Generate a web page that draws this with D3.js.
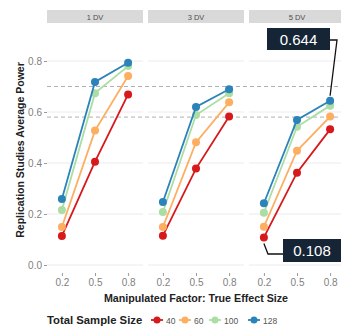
<!DOCTYPE html>
<html><head><meta charset="utf-8">
<script src="https://cdn.jsdelivr.net/npm/d3@7"></script>
<style>body{margin:0;background:#fff}svg{display:block;font-family:"Liberation Sans",Arial,sans-serif}</style>
</head><body><svg id="c" width="341" height="328"></svg>
<script>
const panels = ["1 DV", "3 DV", "5 DV"];
const effectSizes = ["0.2", "0.5", "0.8"];
const sampleSizes = ["40", "60", "100", "128"];
const colors = ["#d7191c", "#fdae61", "#abdda4", "#2b83ba"];
const yTicks = [0.0, 0.2, 0.4, 0.6, 0.8];
const refLines = [0.7, 0.58];
// values[panel][sampleSize] = power at 0.2, 0.5, 0.8
const dv1 = [[0.114, 0.405, 0.669], [0.149, 0.527, 0.741], [0.216, 0.674, 0.780], [0.259, 0.718, 0.793]];
const dv3 = [[0.115, 0.378, 0.582], [0.149, 0.481, 0.638], [0.208, 0.588, 0.674], [0.247, 0.620, 0.689]];
const dv5 = [[0.108, 0.362, 0.532], [0.150, 0.448, 0.582], [0.205, 0.542, 0.625], [0.242, 0.569, 0.644]];
const values = [dv1, dv3, dv5];
const labels = [{panel: 2, series: 3, x: "0.8", text: "0.644"}, {panel: 2, series: 0, x: "0.2", text: "0.108"}];

const svg = d3.select("#c");
const y = d3.scaleLinear().domain([0, 0.8]).range([265, 61]);
const panelLeft = [47, 148, 249], panelW = 96, stripTop = 10, stripH = 13, panelBottom = 273;
const xs = [];

panels.forEach((p, i) => {
  const x = d3.scalePoint().domain(effectSizes).range([panelLeft[i], panelLeft[i] + panelW]).padding(0.45);
  xs[i] = x;
  const g = svg.append("g");
  g.append("rect").attr("x", panelLeft[i]).attr("y", stripTop).attr("width", panelW).attr("height", stripH).attr("fill", "#d9d9d9");
  g.append("text").attr("x", panelLeft[i] + panelW / 2).attr("y", stripTop + 9.5).attr("text-anchor", "middle")
    .attr("font-size", 7.5).attr("fill", "#4d4d4d").text(p);
  g.selectAll(".grid").data(yTicks).join("line")
    .attr("x1", panelLeft[i]).attr("x2", panelLeft[i] + panelW)
    .attr("y1", d => y(d)).attr("y2", d => y(d)).attr("stroke", "#ebebeb").attr("stroke-width", 1);
  const xa = g.append("g").attr("transform", `translate(0,${panelBottom})`)
    .call(d3.axisBottom(x).tickSize(3).tickPadding(3));
  xa.select(".domain").remove();
  xa.selectAll("line").attr("stroke", "#9a9a9a");
  xa.selectAll("text").attr("font-size", 10).attr("fill", "#7f7f7f").attr("font-family", "Liberation Sans, Arial, sans-serif");
});

svg.selectAll(".ref").data(refLines).join("line")
  .attr("x1", panelLeft[0]).attr("x2", 341).attr("y1", d => y(d)).attr("y2", d => y(d))
  .attr("stroke", "#b0b0b0").attr("stroke-width", 1).attr("stroke-dasharray", "4,3");

panels.forEach((p, i) => {
  const x = xs[i];
  sampleSizes.forEach((s, k) => {
    const pts = effectSizes.map((e, j) => [x(e), y(values[i][k][j])]);
    svg.append("path").attr("d", d3.line()(pts)).attr("fill", "none").attr("stroke", colors[k]).attr("stroke-width", 1.8);
    svg.selectAll(null).data(pts).join("circle").attr("cx", d => d[0]).attr("cy", d => d[1]).attr("r", 4).attr("fill", colors[k]);
  });
});

const ya = svg.append("g").attr("transform", `translate(${panelLeft[0]},0)`).call(d3.axisLeft(y).tickValues(yTicks).tickFormat(d3.format(".1f")).tickSize(3).tickPadding(2));
ya.select(".domain").remove();
ya.selectAll("line").attr("stroke", "#9a9a9a");
ya.selectAll("text").attr("font-size", 10).attr("fill", "#7f7f7f").attr("font-family", "Liberation Sans, Arial, sans-serif");

const xa3 = xs[2];
const l1 = labels[0];
const p1 = [xa3(l1.x), y(values[l1.panel][l1.series][2])];
svg.append("path").attr("d", `M${p1[0]},${p1[1] - 5} L337,40 L330,40`).attr("fill", "none").attr("stroke", "#111").attr("stroke-width", 1.3);
svg.append("rect").attr("x", 267).attr("y", 28).attr("width", 63).attr("height", 22).attr("fill", "#152536");
svg.append("text").attr("x", 298.5).attr("y", 44.5).attr("text-anchor", "middle").attr("font-size", 15).attr("fill", "#fff").text(l1.text);
const l2 = labels[1];
const p2 = [xa3(l2.x), y(values[l2.panel][l2.series][0])];
svg.append("path").attr("d", `M${p2[0]},${p2[1] + 6} L268,254 L283,254`).attr("fill", "none").attr("stroke", "#111").attr("stroke-width", 1.3);
svg.append("rect").attr("x", 283).attr("y", 239).attr("width", 58).attr("height", 23).attr("fill", "#152536");
svg.append("text").attr("x", 312).attr("y", 256).attr("text-anchor", "middle").attr("font-size", 15).attr("fill", "#fff").text(l2.text);

svg.append("text").attr("transform", "translate(24,150) rotate(-90)").attr("text-anchor", "middle")
  .attr("font-size", 10.5).attr("font-weight", "bold").attr("fill", "#222").text("Replication Studies Average Power");
svg.append("text").attr("x", 196).attr("y", 302).attr("text-anchor", "middle")
  .attr("font-size", 10.7).attr("font-weight", "bold").attr("fill", "#222").text("Manipulated Factor: True Effect Size");

svg.append("text").attr("x", 47).attr("y", 324).attr("font-size", 11.3).attr("font-weight", "bold").attr("fill", "#222").text("Total Sample Size");
const legX = [157, 185, 215, 254];
sampleSizes.forEach((s, k) => {
  const lg = svg.append("g");
  lg.append("line").attr("x1", legX[k] - 6).attr("x2", legX[k] + 6).attr("y1", 320).attr("y2", 320).attr("stroke", colors[k]).attr("stroke-width", 1.8);
  lg.append("circle").attr("cx", legX[k]).attr("cy", 320).attr("r", 3.5).attr("fill", colors[k]);
  lg.append("text").attr("x", legX[k] + 9).attr("y", 323.5).attr("font-size", 8.5).attr("fill", "#555").text(s);
});
</script></body></html>
